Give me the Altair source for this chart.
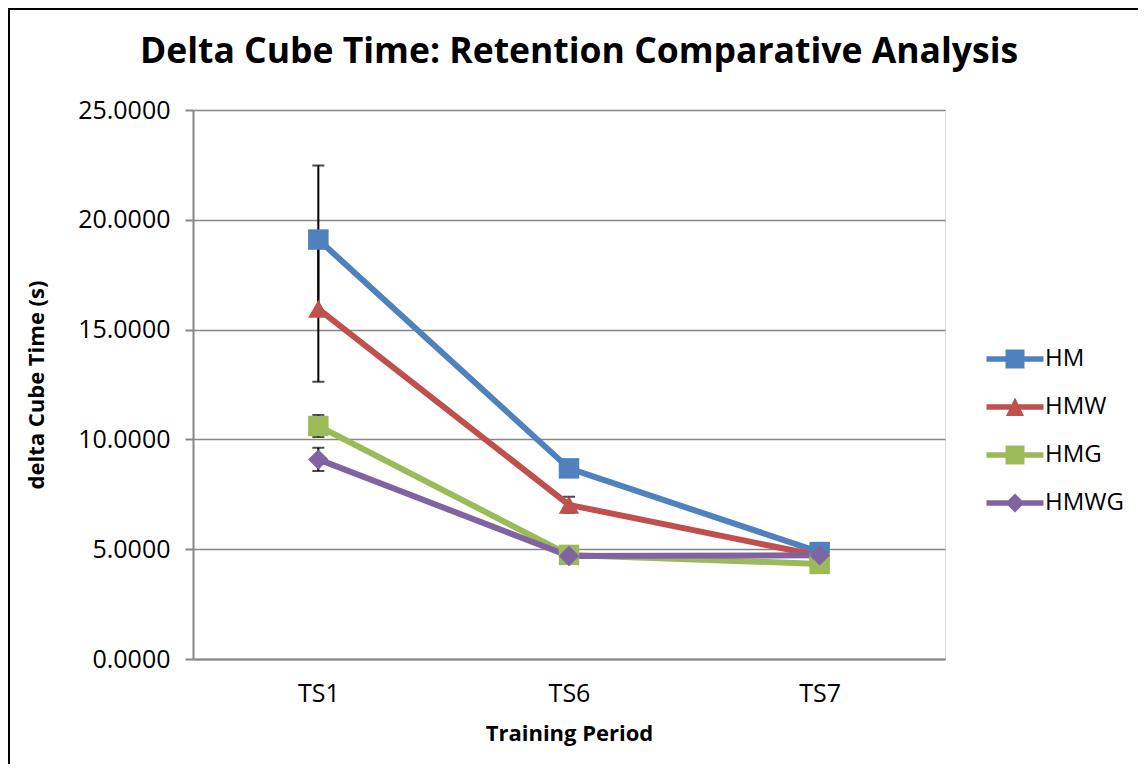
import altair as alt
import pandas as pd

periods = ["TS1", "TS6", "TS7"]
series_names = ["HM", "HMW", "HMG", "HMWG"]
hm = [19.10, 8.68, 4.87]
hmw = [15.94, 7.02, 4.70]
hmg = [10.61, 4.74, 4.33]
hmwg = [9.09, 4.69, 4.72]
hm_err = [3.37, 0.0, 0.0]
hmw_err = [3.31, 0.37, 0.0]
hmg_err = [0.50, 0.0, 0.0]
hmwg_err = [0.53, 0.0, 0.0]

colors = ["#4F81BD", "#C0504D", "#9BBB59", "#8064A2"]
marker_shapes = ["square", "triangle-up", "square", "diamond"]
legend_paths = [
    "M-3,-0.3H3V0.3H-3Z M-1,-1H1V1H-1Z",
    "M-3,-0.3H3V0.3H-3Z M0,-1L0.95,0.95H-0.95Z",
    "M-3,-0.3H3V0.3H-3Z M-1,-1H1V1H-1Z",
    "M-3,-0.3H3V0.3H-3Z M0,-1L1,0L0,1L-1,0Z",
]

rows = []
for name, vals, errs in zip(series_names, [hm, hmw, hmg, hmwg], [hm_err, hmw_err, hmg_err, hmwg_err]):
    for p, v, e in zip(periods, vals, errs):
        rows.append({"period": p, "series": name, "value": v, "err": e,
                     "lo": v - e, "hi": v + e})
df = pd.DataFrame(rows)
err_df = df[df["err"] > 0]

FONT = "Open Sans"
x_enc = alt.X("period:N", sort=periods, scale=alt.Scale(type="point", padding=0.5),
              axis=alt.Axis(title="Training Period", labelAngle=0, ticks=False,
                            labelPadding=22, titlePadding=17, labelFontSize=25,
                            titleFontSize=22, titleFontWeight="bold",
                            domainColor="#868686", domainWidth=2, grid=False,
                            labelColor="black", titleColor="black"))
y_scale = alt.Scale(domain=[0, 25], nice=False, zero=True)
y_axis = alt.Axis(title="delta Cube Time (s)", values=[0, 5, 10, 15, 20, 25], format=".4f",
                  tickSize=8, tickColor="#868686", tickWidth=2, labelPadding=15,
                  titlePadding=29, labelFontSize=25, titleFontSize=22, titleFontWeight="bold",
                  domainColor="#868686", domainWidth=2, gridColor="#868686", gridWidth=1.5,
                  labelColor="black", titleColor="black")
color_scale = alt.Scale(domain=series_names, range=colors)

# outer chart frame (only its left and top edges fall inside the canvas)
frame_df = pd.DataFrame({"k": [0]})
frame = alt.Chart(frame_df).mark_rect(filled=False, color="black", strokeWidth=2).encode(
    x=alt.value(-184), x2=alt.value(1100), y=alt.value(-101), y2=alt.value(800))

leg = alt.Legend(title=None, orient="none", legendX=810, legendY=237,
                 symbolSize=361, symbolStrokeWidth=0, symbolOpacity=1,
                 labelFontSize=24, labelOffset=18, rowPadding=24,
                 labelColor="black", labelFont=FONT)
legend_layer = alt.Chart(df).mark_point(filled=True, size=1, strokeWidth=0).encode(
    x=x_enc, y=alt.Y("value:Q", scale=y_scale, axis=y_axis),
    color=alt.Color("series:N", scale=color_scale, legend=leg),
    shape=alt.Shape("series:N", scale=alt.Scale(domain=series_names, range=legend_paths),
                    legend=leg))

err_rule = alt.Chart(err_df).mark_rule(color="black", strokeWidth=2).encode(
    x=x_enc, y=alt.Y("lo:Q", scale=y_scale, axis=y_axis), y2="hi:Q")
err_lo = alt.Chart(err_df).mark_tick(color="black", thickness=2, size=12).encode(
    x=x_enc, y=alt.Y("lo:Q", scale=y_scale))
err_hi = alt.Chart(err_df).mark_tick(color="black", thickness=2, size=12).encode(
    x=x_enc, y=alt.Y("hi:Q", scale=y_scale))

lines = alt.Chart(df).mark_line(strokeWidth=6).encode(
    x=x_enc, y=alt.Y("value:Q", scale=y_scale, axis=y_axis),
    color=alt.Color("series:N", scale=color_scale, legend=None),
    order=alt.Order("period:N"))

point_layers = []
for name, shp, col in zip(series_names, marker_shapes, colors):
    point_layers.append(
        alt.Chart(df).transform_filter(alt.datum.series == name).mark_point(
            shape=shp, filled=True, size=420, opacity=1, color=col, strokeWidth=0).encode(
            x=x_enc, y=alt.Y("value:Q", scale=y_scale)))

chart = alt.layer(legend_layer, frame, err_rule, err_lo, err_hi, lines,
                  *point_layers).properties(
    width=752, height=549,
    title=alt.TitleParams("Delta Cube Time: Retention Comparative Analysis", fontSize=35.5,
                          fontWeight="bold", font=FONT, color="black", anchor="middle",
                          offset=-62, dx=10),
    autosize=alt.AutoSizeParams(type="none"),
    padding={"left": 185, "top": 102, "right": 193, "bottom": 105},
).configure_view(stroke=None).configure(font=FONT).configure_axis(labelFont=FONT, titleFont=FONT)

chart.save("out.html", embed_options={"renderer": "svg", "actions": False})
